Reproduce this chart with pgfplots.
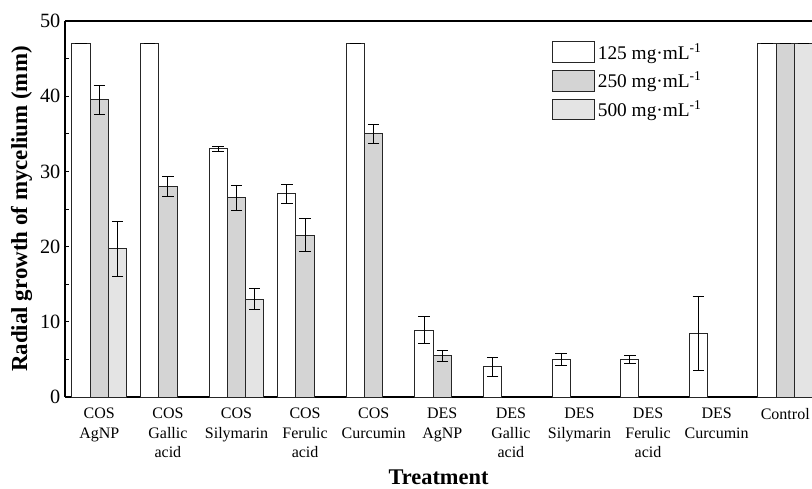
\documentclass[border=0pt]{standalone}
\usepackage{fontspec}
\setmainfont{Liberation Serif}
\usepackage{pgfplots}
\pgfplotsset{compat=1.18}
\definecolor{cA}{HTML}{D4D4D4}
\definecolor{cB}{HTML}{E4E4E4}
\begin{document}
\begin{tikzpicture}
\begin{axis}[
  scale only axis,
  width=560.25pt, height=282pt,
  at={(0,0)}, anchor=south west,
  xmin=-0.5, xmax=10.39,
  ymin=0, ymax=50,
  axis y line*=left,
  axis x line*=box,
  axis line style={line width=0.9pt},
  ybar=0pt,
  bar width=13.7pt,
  xtick={0,...,10},
  xticklabels={{COS\\AgNP},{COS\\Gallic\\acid},{COS\\Silymarin},{COS\\Ferulic\\acid},{COS\\Curcumin},{DES\\AgNP},{DES\\Gallic\\acid},{DES\\Silymarin},{DES\\Ferulic\\acid},{DES\\Curcumin},{Control}},
  xticklabel style={align=center, font=\fontsize{12}{14.6}\selectfont, yshift=-4.8pt},
  x tick style={draw=none},
  ytick={0,10,...,50},
  minor ytick={5,15,...,45},
  y tick style={line width=0.7pt, black},
  tick align=inside,
  major tick length=3pt, minor tick length=3pt,
  /pgf/number format/assume math mode=true,
  yticklabel style={font=\fontsize{15.2}{17}\selectfont},
  ylabel={\textbf{Radial growth of mycelium (mm)}},
  ylabel style={font=\fontsize{17.2}{19}\selectfont, yshift=-1pt},
  xlabel={\textbf{Treatment}},
  xlabel style={font=\fontsize{16.8}{19}\selectfont, at={(axis description cs:0.5,0)}, anchor=base, inner sep=0pt, text depth=0pt, yshift=-65.6pt},
  legend style={draw=none, fill=none, at={(0.652,0.949)}, anchor=north west,
    font=\fontsize{14.5}{16}\selectfont, row sep=4.1pt, inner sep=0pt,
    /tikz/every even column/.append style={column sep=3.5pt}},
  legend image code/.code={\draw[#1, line width=0.7pt] (0pt,-7.8pt) rectangle (31.5pt,7.8pt);},
  legend cell align=left,
  error bars/error bar style={black, line width=0.6pt},
  error bars/error mark options={rotate=90, black, line width=0.6pt, mark size=4.3pt},
]
\addplot[fill=white, draw=black!85, line width=0.7pt,
  error bars/.cd, y dir=both, y explicit]
  coordinates {(0,47) +- (0,0) (1,47) +- (0,0) (2,33) +- (0,0.3) (3,27) +- (0,1.3) (4,47) +- (0,0)
  (5,8.9) +- (0,1.8) (6,4.0) +- (0,1.2) (7,5.0) +- (0,0.8) (8,5.0) +- (0,0.55) (9,8.5) +- (0,4.9) (10,47) +- (0,0)};
\addplot[fill=cA, draw=black!85, line width=0.7pt,
  error bars/.cd, y dir=both, y explicit]
  coordinates {(0,39.5) +- (0,1.9) (1,28) +- (0,1.3) (2,26.5) +- (0,1.7) (3,21.5) +- (0,2.2) (4,35) +- (0,1.3)
  (5,5.5) +- (0,0.7) (10,47) +- (0,0)};
\addplot[fill=cB, draw=black!85, line width=0.7pt,
  error bars/.cd, y dir=both, y explicit]
  coordinates {(0,19.7) +- (0,3.7) (2,13.0) +- (0,1.4) (10,47) +- (0,0)};
\legend{125 mg·mL\textsuperscript{-1}, 250 mg·mL\textsuperscript{-1}, 500 mg·mL\textsuperscript{-1}}
\end{axis}
\pgfresetboundingbox
\useasboundingbox (-48.75pt,-68.25pt) rectangle (560.25pt,297.75pt);
\end{tikzpicture}
\end{document}
